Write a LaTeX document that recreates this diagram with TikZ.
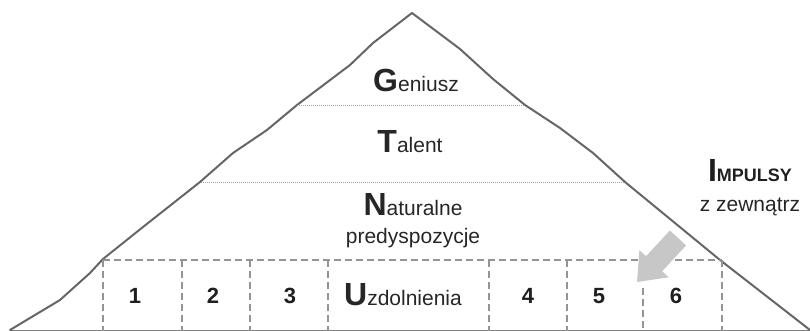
\documentclass[tikz,border=0pt]{standalone}
\usepackage{fontspec}
\setmainfont{Liberation Sans}
\begin{document}
\begin{tikzpicture}[x=1pt,y=-1pt,
  mountain/.style={draw=black!60, line width=2pt, line join=round, line cap=round},
  sep/.style={draw=black!35, line width=0.9pt, dash pattern=on 1pt off 1pt},
  cell/.style={draw=black!42, line width=2pt, dash pattern=on 7pt off 4pt},
  lbl/.style={anchor=base, inner sep=0pt, text=black!85, font=\fontsize{21}{24}\selectfont},
  num/.style={anchor=base, inner sep=0pt, text=black!88, font=\fontsize{22}{24}\selectfont\bfseries},
  initial/.style={font=\fontsize{32}{34}\selectfont\bfseries}
]
\useasboundingbox (0,0) rectangle (810,331);
% ground line
\draw[black!50, line width=1.5pt] (10,330.5) -- (810,330.5);
% mountain outline
\draw[mountain] (10,330) -- (60,300) -- (90,273) -- (103,259) -- (143,227) -- (200,182)
  -- (233,153) -- (267,130) -- (297,105) -- (350,65) -- (373,43) -- (412,13)
  -- (460,49) -- (493,79) -- (525,105) -- (560,128) -- (593,153) -- (625,182)
  -- (720,260) -- (810,330);
% level separators
\coordinate (s1l) at (297,105); \coordinate (s1r) at (525,105);
\coordinate (s2l) at (201,182); \coordinate (s2r) at (625,182);
\draw[sep] (s1l) -- (s1r);
\draw[sep] (s2l) -- (s2r);
% dashed cells
\coordinate (c0) at (103,260);
\coordinate (c7) at (722,260);
\draw[cell] (c0) -- (c7);
\foreach \x in {103,182,250,328,489,567,722}{
  \draw[cell] (\x,260) -- (\x,331);
}
\draw[cell] (643,288) -- (643,331);
% arrow (impulses from outside)
\fill[black!22] (669.9,230.5) -- (646,256.2) -- (639.4,250.1) -- (637,282)
  -- (668.7,277.3) -- (662.1,271.2) -- (686.1,245.5) -- cycle;
% labels
\node[lbl] (genius) at (416,92) {{\fontsize{32}{34}\selectfont\bfseries G}eniusz};
\node[lbl] (talent) at (410,153) {{\fontsize{32}{34}\selectfont\bfseries T}alent};
\node[lbl] (natural) at (413,215) {{\fontsize{32}{34}\selectfont\bfseries N}aturalne};
\node[lbl] (predisp) at (413,243) {predyspozycje};
\node[lbl] (talents) at (403,305) {{\fontsize{32}{34}\selectfont\bfseries U}zdolnienia};
\node[num] (n1) at (135,303) {1};
\node[num] (n2) at (213,303) {2};
\node[num] (n3) at (290,303) {3};
\node[num] (n4) at (528,303) {4};
\node[num] (n5) at (599,303) {5};
\node[num] (n6) at (676,303) {6};
\node[lbl, text=black!88] (impulse) at (750,182) {\bfseries{\fontsize{32}{34}\selectfont I}{\fontsize{18}{20}\selectfont MPULSY}};
\node[lbl] (outside) at (750,211) {z zewnątrz};
\end{tikzpicture}
\end{document}
